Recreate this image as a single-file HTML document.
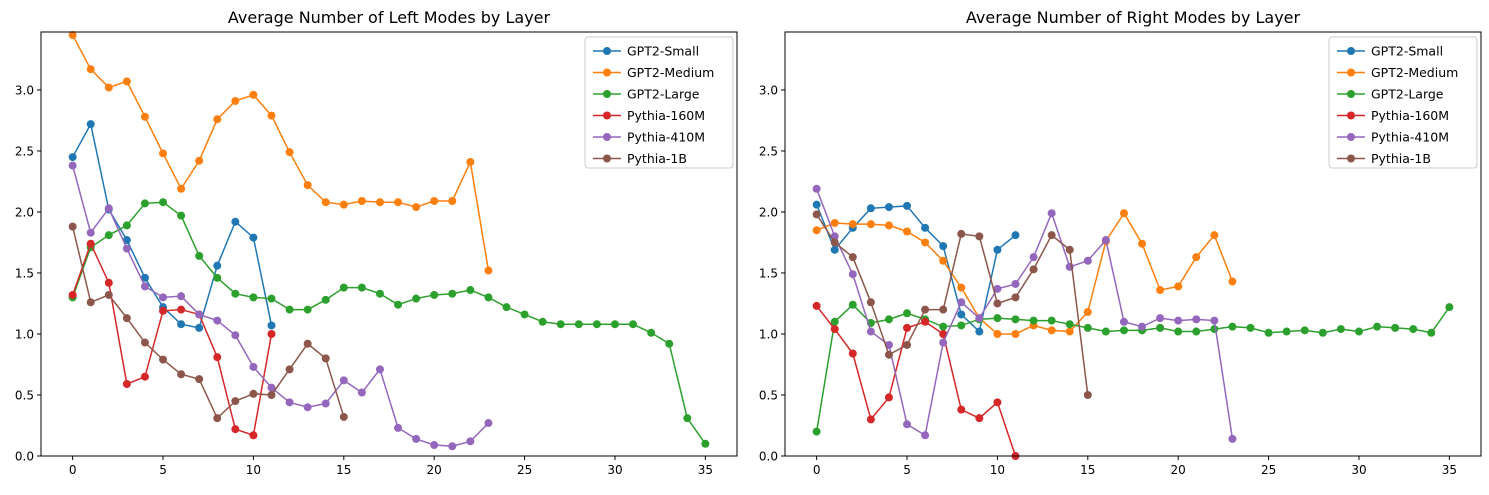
<!DOCTYPE html>
<html><head><meta charset="utf-8">
<style>
body{margin:0;background:#fff;}
svg{font-family:"DejaVu Sans","Liberation Sans",sans-serif;}
</style></head>
<body>
<svg id="chart" width="1489" height="490" xmlns="http://www.w3.org/2000/svg"></svg>
<script>
const layers = Array.from({length:36},(_,i)=>i);
const seriesNames = ["GPT2-Small","GPT2-Medium","GPT2-Large","Pythia-160M","Pythia-410M","Pythia-1B"];
const colors = ["#1f77b4","#ff7f0e","#2ca02c","#d62728","#9467bd","#8c564b"];
const xTicks = [0,5,10,15,20,25,30,35];
const yTicks = [0,0.5,1.0,1.5,2.0,2.5,3.0];
const yTickLabels = ["0.0","0.5","1.0","1.5","2.0","2.5","3.0"];

const leftGPT2Small = [2.45,2.72,2.02,1.77,1.46,1.22,1.08,1.05,1.56,1.92,1.79,1.07];
const leftGPT2Medium = [3.45,3.17,3.02,3.07,2.78,2.48,2.19,2.42,2.76,2.91,2.96,2.79,2.49,2.22,2.08,2.06,2.09,2.08,2.08,2.04,2.09,2.09,2.41,1.52];
const leftGPT2Large = [1.30,1.71,1.81,1.89,2.07,2.08,1.97,1.64,1.46,1.33,1.30,1.29,1.20,1.20,1.28,1.38,1.38,1.33,1.24,1.29,1.32,1.33,1.36,1.30,1.22,1.16,1.10,1.08,1.08,1.08,1.08,1.08,1.01,0.92,0.31,0.10];
const leftPythia160M = [1.32,1.74,1.42,0.59,0.65,1.19,1.20,1.16,0.81,0.22,0.17,1.00];
const leftPythia410M = [2.38,1.83,2.03,1.70,1.39,1.30,1.31,1.16,1.11,0.99,0.73,0.56,0.44,0.40,0.43,0.62,0.52,0.71,0.23,0.14,0.09,0.08,0.12,0.27];
const leftPythia1B = [1.88,1.26,1.32,1.13,0.93,0.79,0.67,0.63,0.31,0.45,0.51,0.50,0.71,0.92,0.80,0.32];

const rightGPT2Small = [2.06,1.69,1.87,2.03,2.04,2.05,1.87,1.72,1.16,1.02,1.69,1.81];
const rightGPT2Medium = [1.85,1.91,1.90,1.90,1.89,1.84,1.75,1.60,1.38,1.13,1.00,1.00,1.07,1.03,1.02,1.18,1.76,1.99,1.74,1.36,1.39,1.63,1.81,1.43];
const rightGPT2Large = [0.20,1.10,1.24,1.09,1.12,1.17,1.12,1.06,1.07,1.12,1.13,1.12,1.11,1.11,1.08,1.05,1.02,1.03,1.03,1.05,1.02,1.02,1.04,1.06,1.05,1.01,1.02,1.03,1.01,1.04,1.02,1.06,1.05,1.04,1.01,1.22];
const rightPythia160M = [1.23,1.04,0.84,0.30,0.48,1.05,1.10,1.00,0.38,0.31,0.44,0.00];
const rightPythia410M = [2.19,1.80,1.49,1.02,0.91,0.26,0.17,0.93,1.26,1.13,1.37,1.41,1.63,1.99,1.55,1.60,1.77,1.10,1.06,1.13,1.11,1.12,1.11,0.14];
const rightPythia1B = [1.98,1.75,1.63,1.26,0.83,0.91,1.20,1.20,1.82,1.80,1.25,1.30,1.53,1.81,1.69,0.50];

const NS="http://www.w3.org/2000/svg";
const svg=document.getElementById('chart');
function mk(tag,attrs,parent){const e=document.createElementNS(NS,tag);for(const k in attrs)e.setAttribute(k,attrs[k]);(parent||svg).appendChild(e);return e;}

function panel(id,left,title,data){
  const top=32,bottom=456,right=left+696;
  const xMin=-1.75,xMax=36.75,yMin=0,yMax=3.475;
  const xs=v=>left+(v-xMin)/(xMax-xMin)*(right-left);
  const ys=v=>bottom-(v-yMin)/(yMax-yMin)*(bottom-top);
  const g=mk('g',{});
  
  
  const t=mk('text',{x:(left+right)/2,y:23,'text-anchor':'middle','font-size':'16',fill:'#000'},g);
  t.textContent=title;
  
  
  xTicks.forEach(v=>{
    mk('line',{x1:xs(v),x2:xs(v),y1:bottom,y2:bottom+4,stroke:'#000','stroke-width':1},g);
    const l=mk('text',{x:xs(v),y:bottom+18,'text-anchor':'middle','font-size':'12',fill:'#000'},g);
    l.textContent=v;
    
    
  });
  yTicks.forEach((v,i)=>{
    mk('line',{x1:left-4,x2:left,y1:ys(v),y2:ys(v),stroke:'#000','stroke-width':1},g);
    const l=mk('text',{x:left-7,y:ys(v)+4.5,'text-anchor':'end','font-size':'12',fill:'#000'},g);
    l.textContent=yTickLabels[i];
    
    
  });
  data.forEach((vals,si)=>{
    const pts=vals.map((v,i)=>xs(layers[i])+','+ys(v)).join(' ');
    const sg=mk('g',{},g);
    
    
    mk('polyline',{points:pts,fill:'none',stroke:colors[si],'stroke-width':1.5},sg);
    vals.forEach((v,i)=>{
      const c=mk('circle',{cx:xs(layers[i]),cy:ys(v),r:4,fill:colors[si]},sg);
      
      
    });
  });
  const fr=mk('rect',{x:left,y:top,width:right-left,height:bottom-top,fill:'none',stroke:'#000','stroke-width':1},g);
  
  
  const lx=right-152, ly=37;
  const lg=mk('g',{},g);
  
  
  mk('rect',{x:lx,y:ly,width:148,height:131,rx:3,fill:'#fff','fill-opacity':0.8,stroke:'#ccc'},lg);
  seriesNames.forEach((n,i)=>{
    const y=ly+14+i*21.5;
    const e=mk('g',{},lg);
    
    
    mk('line',{x1:lx+8,x2:lx+36,y1:y,y2:y,stroke:colors[i],'stroke-width':1.5},e);
    mk('circle',{cx:lx+22,cy:y,r:4,fill:colors[i]},e);
    const tx=mk('text',{x:lx+42,y:y+4.5,'font-size':'12.5',fill:'#000'},e);
    tx.textContent=n;
  });
}
panel('left',41,'Average Number of Left Modes by Layer',[leftGPT2Small,leftGPT2Medium,leftGPT2Large,leftPythia160M,leftPythia410M,leftPythia1B]);
panel('right',785,'Average Number of Right Modes by Layer',[rightGPT2Small,rightGPT2Medium,rightGPT2Large,rightPythia160M,rightPythia410M,rightPythia1B]);
</script>
</body></html>
